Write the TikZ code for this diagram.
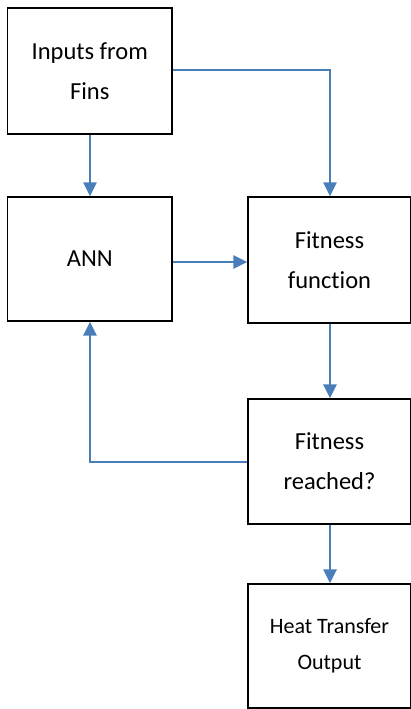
\documentclass[tikz,border=0pt]{standalone}
\usepackage{fontspec}
\setmainfont{Carlito}[Ligatures=NoCommon]
\usetikzlibrary{arrows.meta}
\definecolor{arrowblue}{RGB}{74,126,187}
\tikzset{
  box/.style={draw=black, line width=1.2pt, fill=white, align=center, inner sep=0pt,
    font=\fontsize{24.5}{40}\selectfont},
  smallbox/.style={box, font=\fontsize{22}{36}\selectfont},
  link/.style={draw=arrowblue, line width=2.8pt, -{Triangle[width=13pt,length=14pt]}},
}
\begin{document}
\begin{tikzpicture}[x=1pt,y=-1pt]
\useasboundingbox (0,0) rectangle (411,709);
\node[box, minimum width=164.5pt, minimum height=126pt] (inp) at (89.75,71) {Inputs from\\Fins};
\node[box, minimum width=164.5pt, minimum height=124pt] (ann) at (89.75,259) {ANN};
\node[box, minimum width=163pt, minimum height=126pt] (ff) at (329.5,260) {Fitness\\function};
\node[box, minimum width=163pt, minimum height=125pt] (fr) at (329.5,461.5) {Fitness\\reached?};
\node[smallbox, minimum width=163pt, minimum height=124pt] (ht) at (329.5,646) {Heat Transfer\\Output};
\coordinate (c1) at (330,70);
\coordinate (c2) at (90,462);
\draw[link] (inp.south -| 90,0) -- (ann.north -| 90,0);
\draw[link] (inp.east |- c1) -- (c1) -- (ff.north -| c1);
\draw[link] (ann.east |- 0,262) -- (ff.west |- 0,262);
\draw[link] (ff.south -| c1) -- (fr.north -| c1);
\draw[link] (fr.west |- c2) -- (c2) -- (ann.south -| c2);
\draw[link] (fr.south -| c1) -- (ht.north -| c1);
\end{tikzpicture}
\end{document}
